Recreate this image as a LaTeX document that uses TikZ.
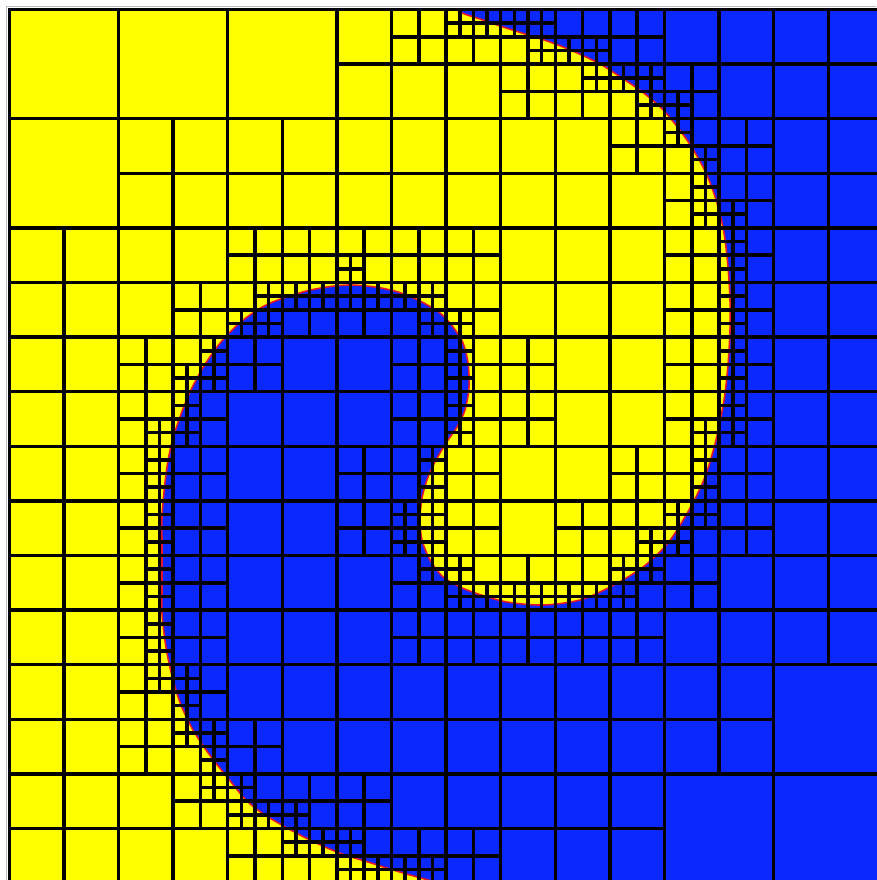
\documentclass[tikz,border=0pt]{standalone}
\usepackage{tikz}
\definecolor{myyellow}{RGB}{255,255,0}
\definecolor{myblue}{RGB}{10,40,255}
\definecolor{myred}{RGB}{230,20,40}

% interface, in pixels (y downwards)
\def\curvepts{452/6, 462/13, 480/19, 503/27, 525/34, 550/42, 575/52, 600/64,
 622/78, 645/94, 666/113, 689/143, 706/173, 717/203, 724/233, 728/267, 730/300,
 730/330, 728/365, 724/400, 716/440, 705/477, 689/510, 668/543, 643/567, 612/586,
 580/600, 543/605, 507/602, 478/594, 458/586, 442/576, 430/560, 422/540, 420/520,
 422/498, 428/477, 436/460, 446/443, 457/427, 465/410, 469/387, 468/363, 463/343,
 453/327, 440/313, 420/301, 398/292, 375/287, 350/285, 327/287, 303/292, 268/304,
 242/321, 221/342, 204/366, 190/392, 180/417, 172/442, 167/467, 164/492, 162/517,
 162/543, 162/565, 162/590, 162/613, 164/633, 167/653, 173/680, 181/705, 193/730,
 209/754, 227/777, 246/800, 262/813, 280/824, 300/835, 325/847, 345/855, 368/862,
 390/869, 410/875, 428/880, 450/887}

% mark the cells of one level near a point: #1 level, #2 size, #3 radius, #4 x, #5 y
\newcommand{\markcells}[5]{%
  \pgfmathtruncatemacro{\imin}{max(0,ceil((#4-9.3-#3)/#2-0.5))}%
  \pgfmathtruncatemacro{\imax}{min(8*2^#1-1,floor((#4-9.3+#3)/#2-0.5))}%
  \pgfmathtruncatemacro{\jmin}{max(0,ceil((#5-9.5-#3)/#2-0.5))}%
  \pgfmathtruncatemacro{\jmax}{min(8*2^#1-1,floor((#5-9.5+#3)/#2-0.5))}%
  \pgfmathsetmacro{\thrs}{#3/100}%
  \ifnum\imin>\imax\else\ifnum\jmin>\jmax\else
  \foreach \ci in {\imin,...,\imax}{%
    \foreach \cj in {\jmin,...,\jmax}{%
      \pgfmathsetmacro{\dd}{veclen((#4-9.3-(\ci+0.5)*#2)/100,(#5-9.5-(\cj+0.5)*#2)/100)}%
      \ifdim\dd pt<\thrs pt\expandafter\gdef\csname mk@#1@\ci @\cj\endcsname{}\fi
    }}%
  \fi\fi}

% walk along the interface: #1 level, #2 size, #3 radius
\newcommand{\markcurve}[3]{%
  \foreach \px/\py [remember=\px as \lx (initially 452), remember=\py as \ly (initially 6)] in \curvepts {%
    \pgfmathtruncatemacro{\nseg}{max(1,ceil(veclen((\px-\lx)/100,(\py-\ly)/100)*100/(#2/6)))}%
    \foreach \k in {1,...,\nseg}{%
      \pgfmathsetmacro{\sx}{\lx+(\px-\lx)*\k/\nseg}%
      \pgfmathsetmacro{\sy}{\ly+(\py-\ly)*\k/\nseg}%
      \markcells{#1}{#2}{#3}{\sx}{\sy}%
    }}}

% quadtree: #1 level, #2 column, #3 row
\newcommand{\leafcell}[3]{%
  \pgfmathsetmacro{\hh}{109.2/2^#1}%
  \draw[cell] ({9.3+#2*\hh},{9.5+#3*\hh}) rectangle ++(\hh,\hh);}
\newcommand{\drawcell}[3]{%
  \ifnum#1<3
    \ifcsname mk@#1@#2@#3\endcsname
      \edef\cellnext{%
        \noexpand\drawcell{\the\numexpr#1+1}{\the\numexpr2*#2}{\the\numexpr2*#3}%
        \noexpand\drawcell{\the\numexpr#1+1}{\the\numexpr2*#2+1}{\the\numexpr2*#3}%
        \noexpand\drawcell{\the\numexpr#1+1}{\the\numexpr2*#2}{\the\numexpr2*#3+1}%
        \noexpand\drawcell{\the\numexpr#1+1}{\the\numexpr2*#2+1}{\the\numexpr2*#3+1}}%
    \else
      \def\cellnext{\leafcell{#1}{#2}{#3}}%
    \fi
  \else
    \def\cellnext{\leafcell{#1}{#2}{#3}}%
  \fi
  \cellnext}

\begin{document}
\begin{tikzpicture}[x=0.1mm, y=-0.1mm,
    cell/.style={draw=black, line width=1pt},
    interface/.style={myred, line width=0.45pt}]
  \useasboundingbox (0,0) rectangle (876,880);

  %Refinement
  \markcurve{0}{109.2}{176}
  \markcurve{1}{54.6}{67}
  \markcurve{2}{27.3}{17}

  %Phases
  \def\plotpts{}
  \foreach \px/\py in \curvepts {\xdef\plotpts{\plotpts(\px,\py)}}
  \begin{scope}
    \clip (9.3,9.5) rectangle (885,885);
    \fill[myyellow] (9.3,9.5) rectangle (885,885);
    \edef\blueregion{\noexpand\fill[myblue] plot[smooth] coordinates {\plotpts} -- (890,890) -- (890,0) -- cycle;
      \noexpand\draw[interface] plot[smooth] coordinates {\plotpts};}
    \blueregion
  \end{scope}

  %Mesh
  \foreach \i in {0,...,7}{\foreach \j in {0,...,7}{\drawcell{0}{\i}{\j}}}

  \draw[gray!50, line width=0.3pt] (6.5,880) -- (6.5,6.5) -- (876,6.5);
\end{tikzpicture}
\end{document}
